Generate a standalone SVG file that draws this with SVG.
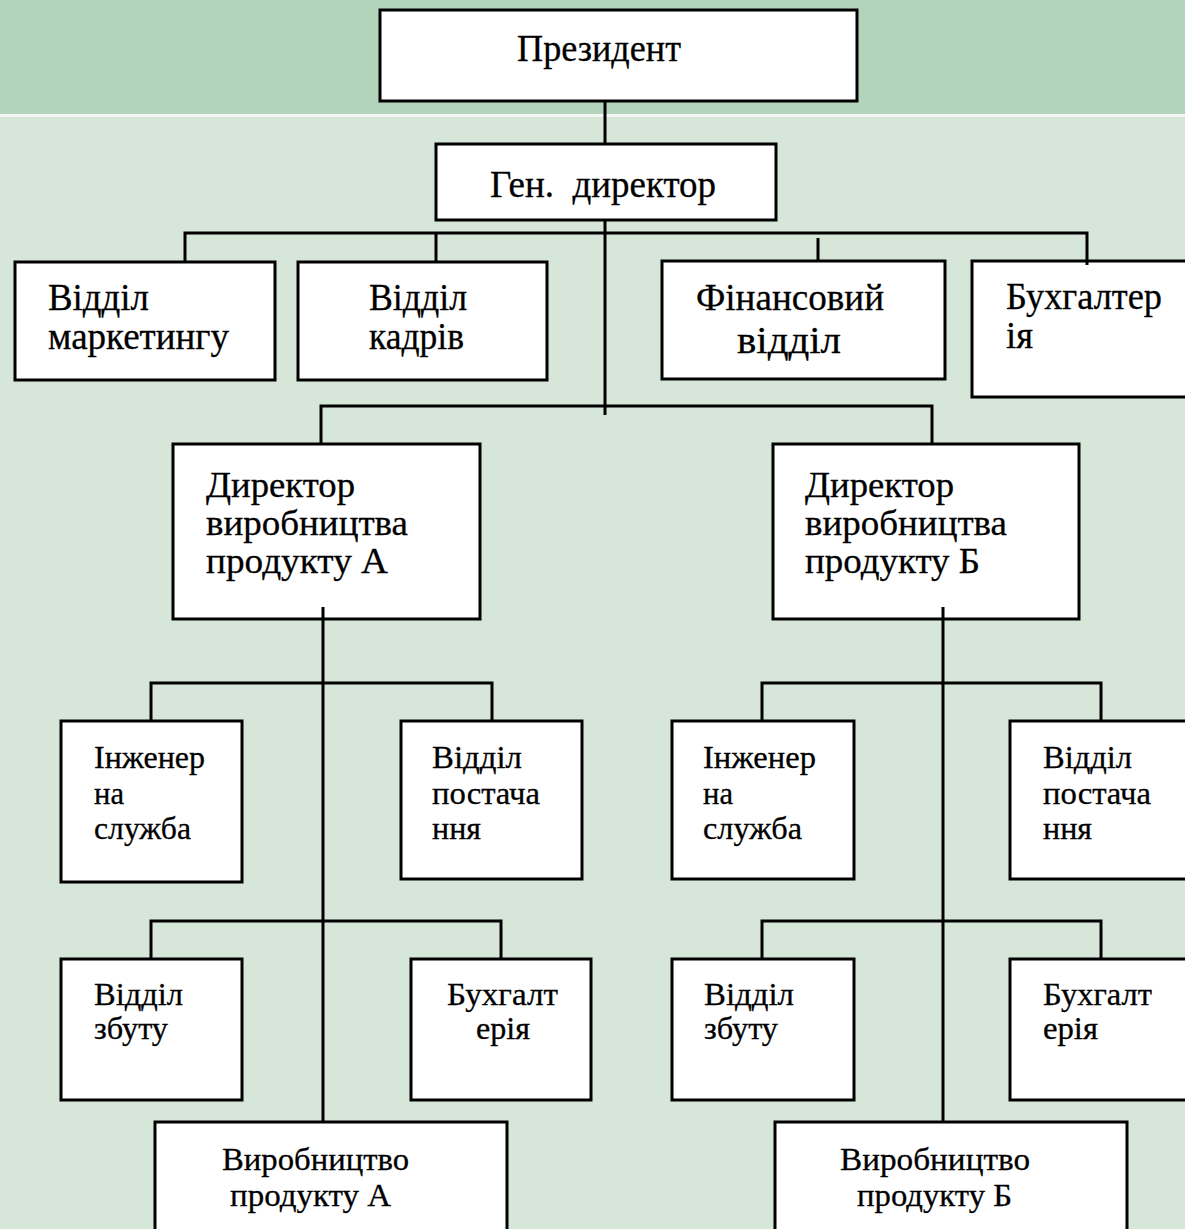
<svg xmlns="http://www.w3.org/2000/svg" width="1185" height="1229" viewBox="0 0 1185 1229">
<style>
.box{fill:#ffffff;stroke:#000000;stroke-width:3}
.ln{stroke:#000000;stroke-width:3;fill:none}
.t{font-family:"Liberation Serif","Times New Roman",serif;font-size:37px;fill:#000000;stroke:#000000;stroke-width:0.3}
.d{font-family:"Liberation Serif","Times New Roman",serif;font-size:36px;fill:#000000;stroke:#000000;stroke-width:0.3}
.s{font-family:"Liberation Serif","Times New Roman",serif;font-size:32px;fill:#000000;stroke:#000000;stroke-width:0.3}
</style>
<rect x="0" y="0" width="1185" height="114" fill="#b4d3bb"/>
<rect x="0" y="114" width="1185" height="3" fill="#f2f7f2"/>
<rect x="0" y="117" width="1185" height="1112" fill="#d6e6d8"/>

<g id="president"><rect class="box" x="380" y="10" width="477" height="91"/>
<text class="t" x="517" y="61" textLength="164" lengthAdjust="spacingAndGlyphs">Президент</text></g>
<g id="gen-director"><rect class="box" x="436" y="144" width="340" height="76"/>
<text class="t" x="490" y="197" textLength="226" lengthAdjust="spacingAndGlyphs" xml:space="preserve">Ген.  директор</text></g>
<g id="marketing"><rect class="box" x="15" y="262" width="260" height="118"/>
<text class="t" x="48" y="310" textLength="101" lengthAdjust="spacingAndGlyphs">Відділ</text>
<text class="t" x="48" y="349" textLength="181" lengthAdjust="spacingAndGlyphs">маркетингу</text></g>
<g id="kadriv"><rect class="box" x="298" y="262" width="249" height="118"/>
<text class="t" x="369" y="310" textLength="98" lengthAdjust="spacingAndGlyphs">Відділ</text>
<text class="t" x="369" y="349" textLength="95" lengthAdjust="spacingAndGlyphs">кадрів</text></g>
<g id="finance"><rect class="box" x="662" y="261" width="283" height="118"/>
<text class="t" x="696" y="310" textLength="188" lengthAdjust="spacingAndGlyphs">Фінансовий</text>
<text class="t" x="737" y="353" textLength="104" lengthAdjust="spacingAndGlyphs">відділ</text></g>
<g id="accounting"><rect class="box" x="972" y="261" width="230" height="136"/>
<text class="t" x="1006" y="309" textLength="156" lengthAdjust="spacingAndGlyphs">Бухгалтер</text>
<text class="t" x="1006" y="348" textLength="27" lengthAdjust="spacingAndGlyphs">ія</text></g>

<g id="director-a"><rect class="box" x="173" y="444" width="307" height="175"/>
<text class="d" x="206" y="497" textLength="149" lengthAdjust="spacingAndGlyphs">Директор</text>
<text class="d" x="206" y="535" textLength="202" lengthAdjust="spacingAndGlyphs">виробництва</text>
<text class="d" x="206" y="573" textLength="182" lengthAdjust="spacingAndGlyphs">продукту А</text></g>
<g id="director-b"><rect class="box" x="773" y="444" width="306" height="175"/>
<text class="d" x="805" y="497" textLength="149" lengthAdjust="spacingAndGlyphs">Директор</text>
<text class="d" x="805" y="535" textLength="202" lengthAdjust="spacingAndGlyphs">виробництва</text>
<text class="d" x="805" y="573" textLength="175" lengthAdjust="spacingAndGlyphs">продукту Б</text></g>

<g id="engineer-a"><rect class="box" x="61" y="721" width="181" height="161"/>
<text class="s" x="94" y="768" textLength="111" lengthAdjust="spacingAndGlyphs">Інженер</text>
<text class="s" x="94" y="804" textLength="30" lengthAdjust="spacingAndGlyphs">на</text>
<text class="s" x="94" y="839" textLength="97" lengthAdjust="spacingAndGlyphs">служба</text></g>
<g id="supply-a"><rect class="box" x="401" y="721" width="181" height="158"/>
<text class="s" x="432" y="768" textLength="90" lengthAdjust="spacingAndGlyphs">Відділ</text>
<text class="s" x="432" y="804" textLength="108" lengthAdjust="spacingAndGlyphs">постача</text>
<text class="s" x="432" y="839" textLength="49" lengthAdjust="spacingAndGlyphs">ння</text></g>
<g id="engineer-b"><rect class="box" x="672" y="721" width="182" height="158"/>
<text class="s" x="703" y="768" textLength="113" lengthAdjust="spacingAndGlyphs">Інженер</text>
<text class="s" x="703" y="804" textLength="30" lengthAdjust="spacingAndGlyphs">на</text>
<text class="s" x="703" y="839" textLength="99" lengthAdjust="spacingAndGlyphs">служба</text></g>
<g id="supply-b"><rect class="box" x="1010" y="721" width="190" height="158"/>
<text class="s" x="1043" y="768" textLength="89" lengthAdjust="spacingAndGlyphs">Відділ</text>
<text class="s" x="1043" y="804" textLength="108" lengthAdjust="spacingAndGlyphs">постача</text>
<text class="s" x="1043" y="839" textLength="49" lengthAdjust="spacingAndGlyphs">ння</text></g>

<g id="sales-a"><rect class="box" x="61" y="959" width="181" height="141"/>
<text class="s" x="94" y="1005" textLength="89" lengthAdjust="spacingAndGlyphs">Відділ</text>
<text class="s" x="94" y="1039" textLength="74" lengthAdjust="spacingAndGlyphs">збуту</text></g>
<g id="accounting-a"><rect class="box" x="411" y="959" width="180" height="141"/>
<text class="s" x="447" y="1005" textLength="111" lengthAdjust="spacingAndGlyphs">Бухгалт</text>
<text class="s" x="476" y="1039" textLength="54" lengthAdjust="spacingAndGlyphs">ерія</text></g>
<g id="sales-b"><rect class="box" x="672" y="959" width="182" height="141"/>
<text class="s" x="704" y="1005" textLength="90" lengthAdjust="spacingAndGlyphs">Відділ</text>
<text class="s" x="704" y="1039" textLength="74" lengthAdjust="spacingAndGlyphs">збуту</text></g>
<g id="accounting-b"><rect class="box" x="1010" y="959" width="190" height="141"/>
<text class="s" x="1043" y="1005" textLength="109" lengthAdjust="spacingAndGlyphs">Бухгалт</text>
<text class="s" x="1043" y="1039" textLength="55" lengthAdjust="spacingAndGlyphs">ерія</text></g>

<g id="production-a"><rect class="box" x="155" y="1122" width="352" height="120"/>
<text class="s" x="222" y="1170" textLength="187" lengthAdjust="spacingAndGlyphs">Виробництво</text>
<text class="s" x="230" y="1206" textLength="161" lengthAdjust="spacingAndGlyphs">продукту А</text></g>
<g id="production-b"><rect class="box" x="775" y="1122" width="352" height="120"/>
<text class="s" x="840" y="1170" textLength="190" lengthAdjust="spacingAndGlyphs">Виробництво</text>
<text class="s" x="857" y="1206" textLength="155" lengthAdjust="spacingAndGlyphs">продукту Б</text></g>

<g id="connectors" class="ln">
<path class="ln" d="M605 101V144"/>
<path class="ln" d="M605 220V415"/>
<path class="ln" d="M185 262V233H1087V265"/>
<path class="ln" d="M436 233V262"/>
<path class="ln" d="M818 238V261"/>
<path class="ln" d="M321 444V406H932V444"/>
<path class="ln" d="M323 607V1122"/>
<path class="ln" d="M151 721V683H492V721"/>
<path class="ln" d="M151 959V921H501V959"/>
<path class="ln" d="M943 607V1122"/>
<path class="ln" d="M762 721V683H1101V721"/>
<path class="ln" d="M762 959V921H1101V959"/>
</g>
</svg>
